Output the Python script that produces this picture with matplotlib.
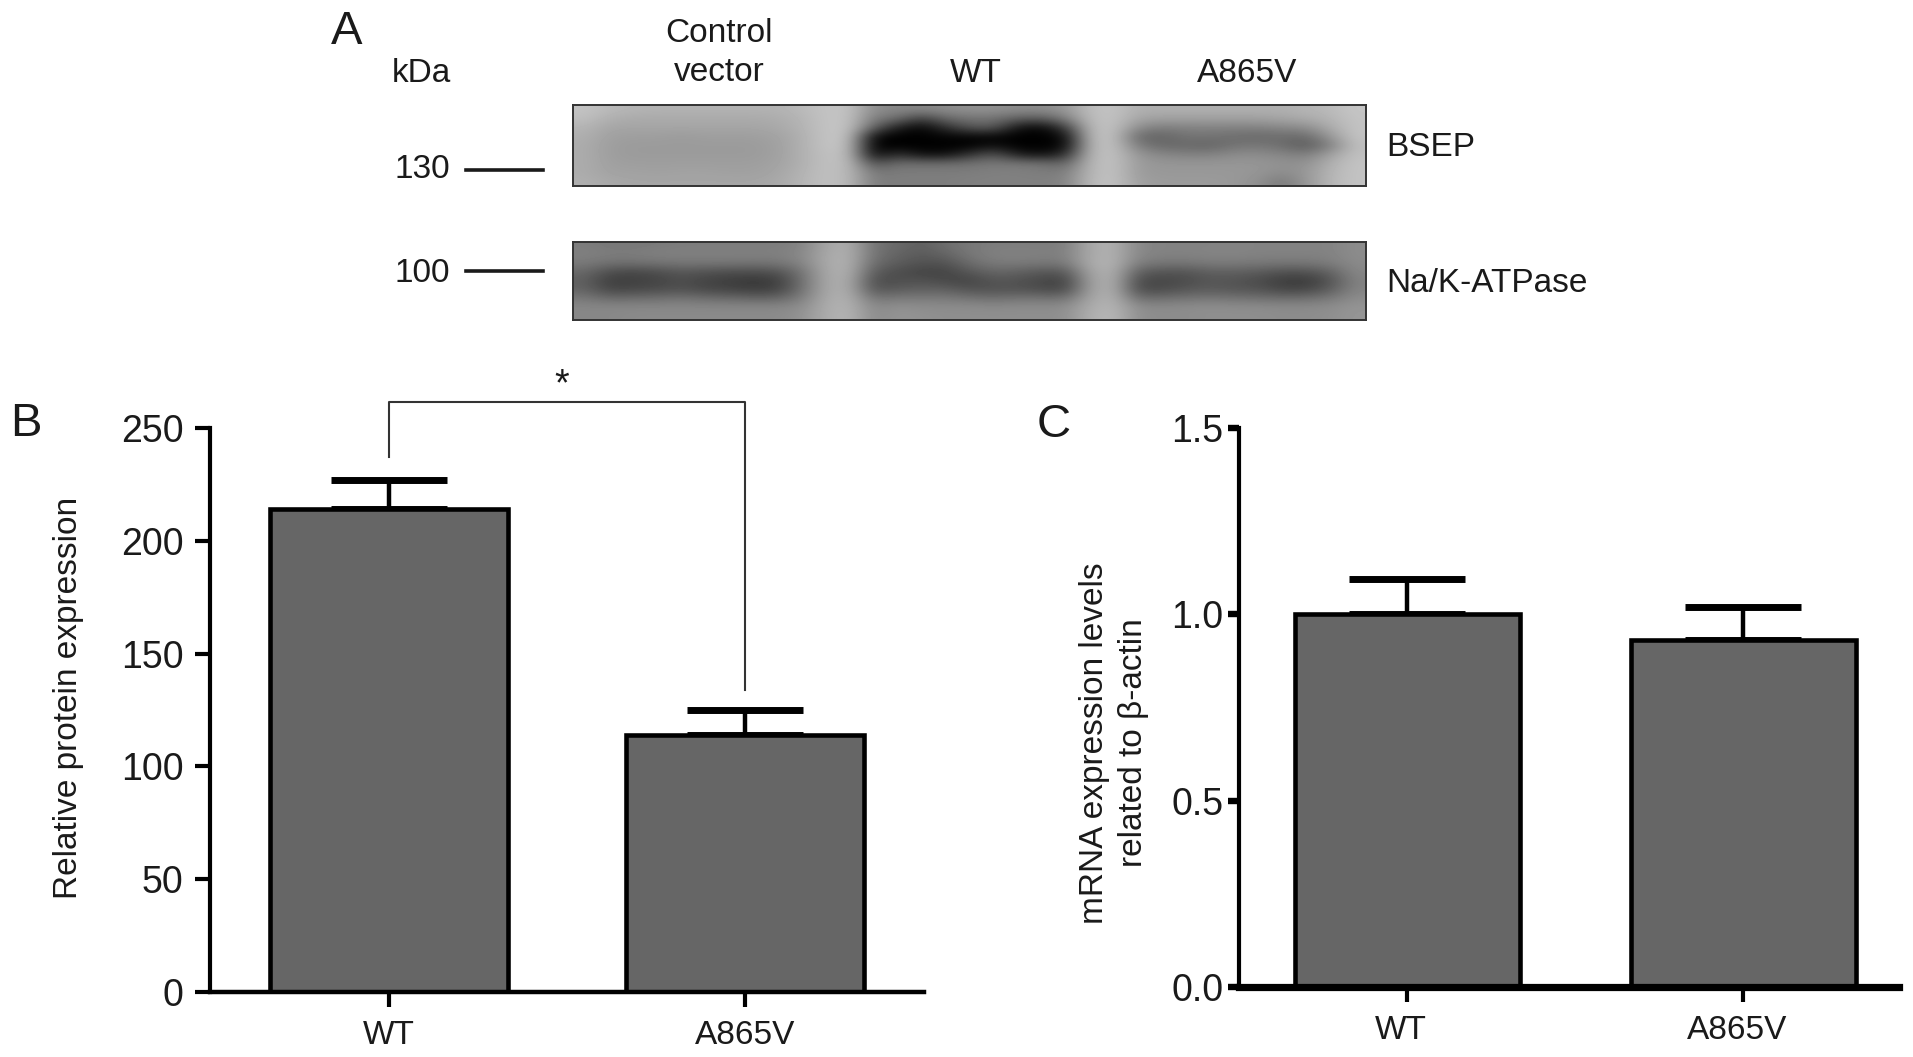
import matplotlib
matplotlib.use("Agg")
import matplotlib.pyplot as plt
from matplotlib.transforms import ScaledTranslation

plt.rcParams['font.family'] = ['Liberation Sans', 'DejaVu Sans']

W, H = 1913, 1057

## Data
categories = ["WT", "A865V"]
protein_values = [214, 114]
protein_errors = [13, 11]
mrna_values = [1.0, 0.93]
mrna_errors = [0.095, 0.09]
protein_ticks = [0, 50, 100, 150, 200, 250]
mrna_ticks = [0.0, 0.5, 1.0, 1.5]
lane_labels = ["Control\nvector", "WT", "A865V"]
lane_label_x = [719, 976, 1247]
marker_labels = ["130", "100"]

bsep_blot = [
    [195, 185, 180, 178, 178, 178, 178, 178, 178, 185, 195, 195, 140, 135, 135, 140, 145, 145, 140, 140, 150, 190, 195, 175, 175, 175, 175, 175, 175, 175, 180, 185, 198],
    [190, 175, 170, 170, 170, 170, 170, 170, 172, 180, 195, 195, 125, 110, 60, 105, 115, 115, 95, 90, 125, 188, 195, 165, 160, 160, 160, 160, 160, 165, 170, 180, 195],
    [180, 165, 165, 165, 165, 165, 165, 165, 168, 178, 195, 195, 100, 30, 5, 45, 85, 90, 20, 5, 60, 185, 195, 140, 125, 130, 130, 130, 130, 135, 140, 170, 195],
    [175, 160, 158, 158, 155, 158, 158, 158, 162, 175, 195, 195, 10, 0, 0, 5, 5, 5, 0, 0, 10, 185, 195, 105, 100, 115, 115, 110, 105, 110, 105, 150, 195],
    [172, 158, 155, 155, 155, 155, 155, 155, 160, 175, 195, 192, 0, 0, 0, 0, 0, 15, 0, 0, 5, 182, 195, 125, 105, 105, 100, 115, 120, 110, 90, 125, 190],
    [172, 158, 155, 155, 155, 155, 155, 155, 160, 175, 192, 190, 10, 50, 15, 15, 50, 85, 30, 15, 45, 182, 195, 150, 135, 130, 130, 140, 140, 135, 125, 160, 192],
    [172, 160, 158, 158, 158, 158, 158, 158, 162, 175, 192, 188, 80, 110, 110, 110, 115, 120, 120, 115, 100, 182, 195, 155, 150, 150, 150, 150, 150, 145, 145, 175, 195],
    [172, 162, 162, 160, 162, 162, 160, 160, 165, 178, 192, 185, 120, 125, 125, 125, 125, 128, 128, 125, 125, 182, 195, 155, 152, 152, 152, 152, 150, 140, 150, 180, 195],
    [175, 168, 165, 165, 165, 165, 165, 165, 168, 180, 192, 185, 125, 125, 125, 125, 128, 128, 128, 128, 130, 185, 195, 160, 155, 155, 155, 152, 145, 120, 150, 182, 195],
]
atpase_blot = [
    [125, 120, 120, 122, 125, 125, 125, 125, 125, 130, 165, 175, 115, 105, 95, 110, 120, 125, 125, 125, 125, 170, 178, 135, 130, 130, 130, 132, 130, 130, 130, 130, 140],
    [128, 125, 125, 128, 128, 128, 128, 128, 128, 135, 168, 178, 115, 100, 90, 100, 120, 128, 130, 128, 128, 170, 178, 135, 130, 130, 132, 132, 130, 130, 130, 130, 140],
    [122, 112, 112, 115, 118, 118, 118, 115, 118, 130, 170, 178, 108, 92, 82, 82, 108, 122, 122, 120, 120, 172, 180, 125, 118, 118, 122, 122, 120, 118, 118, 124, 138],
    [105, 78, 72, 78, 88, 82, 78, 78, 82, 115, 168, 178, 92, 78, 68, 68, 88, 102, 98, 88, 88, 165, 178, 96, 85, 85, 96, 96, 92, 82, 82, 98, 135],
    [96, 62, 64, 68, 78, 68, 62, 56, 62, 110, 168, 175, 78, 78, 82, 72, 68, 86, 82, 72, 66, 160, 178, 76, 70, 76, 86, 84, 76, 62, 58, 82, 130],
    [100, 70, 72, 76, 82, 72, 68, 62, 66, 112, 168, 175, 84, 92, 96, 96, 82, 82, 84, 76, 72, 160, 178, 76, 76, 86, 92, 86, 84, 70, 70, 92, 132],
    [120, 105, 108, 110, 115, 108, 105, 100, 100, 125, 170, 178, 115, 122, 122, 122, 115, 110, 115, 115, 112, 165, 180, 108, 110, 115, 118, 115, 112, 108, 110, 120, 140],
    [135, 135, 135, 135, 135, 135, 135, 135, 135, 140, 172, 180, 135, 145, 140, 140, 140, 138, 140, 140, 140, 172, 182, 140, 138, 140, 142, 140, 140, 138, 138, 140, 148],
    [135, 135, 138, 138, 138, 138, 138, 138, 138, 145, 172, 182, 138, 148, 145, 142, 142, 142, 142, 142, 142, 175, 185, 142, 140, 140, 142, 142, 142, 140, 140, 142, 150],
]


def px_axes(x0, y0, x1, y1):
    # pixel box with y measured from the top of the picture
    return fig.add_axes([x0 / W, 1 - y1 / H, (x1 - x0) / W, (y1 - y0) / H])


def px_text(x, y, s, **kw):
    fig.text(x / W, 1 - y / H, s, color="#1a1a1a", **kw)


def draw_blot(x0, y0, x1, y1, grid):
    ax = px_axes(x0, y0, x1, y1)
    ax.imshow(grid, cmap="gray", vmin=0, vmax=255, aspect="auto", interpolation="bicubic")
    ax.set_xticks([])
    ax.set_yticks([])
    for s in ax.spines.values():
        s.set_linewidth(1.4)
        s.set_color("#333333")


def draw_bars(box, values, errors, ylim, ticks, ticklabels, axis_lw, tick_w, tick_len, tick_pad, xlim):
    ax = px_axes(*box)
    ax.bar([0, 1], values, width=BAR_W, color="#666666", edgecolor="black", linewidth=3.3, zorder=2)
    ax.errorbar([0, 1], values, yerr=[[0, 0], errors], fmt="none", ecolor="black",
                elinewidth=3.2, capsize=42, capthick=5, zorder=1)
    ax.set_xlim(*xlim)
    ax.set_ylim(*ylim)
    ax.set_xticks([0, 1])
    ax.set_xticklabels(categories, fontsize=24, color="#1a1a1a")
    ax.set_yticks(ticks)
    ax.set_yticklabels(ticklabels, fontsize=27, color="#1a1a1a")
    ax.tick_params(axis="x", length=11, width=3, pad=9)
    ax.tick_params(axis="y", length=tick_len, width=tick_w, pad=tick_pad)
    for s in ["top", "right"]:
        ax.spines[s].set_visible(False)
    ax.spines["left"].set_linewidth(3)
    ax.spines["bottom"].set_linewidth(axis_lw)
    ax.patch.set_alpha(0)
    return ax


fig = plt.figure(figsize=(W / 100, H / 100), dpi=100)

## Panel A
draw_blot(573, 105, 1366, 186, bsep_blot)
draw_blot(573, 242, 1366, 320, atpase_blot)
px_text(347, 32, "A", fontsize=34, ha="center", va="center")
px_text(421, 73, "kDa", fontsize=24, ha="center", va="center")
for label, x in zip(lane_labels, lane_label_x):
    px_text(x, 53 if "\n" in label else 73, label, fontsize=24, ha="center", va="center", linespacing=1.37)
px_text(1386, 148, "BSEP", fontsize=24, ha="left", va="center")
px_text(1386, 284, "Na/K-ATPase", fontsize=24, ha="left", va="center")
px_text(422, 169, marker_labels[0], fontsize=24, ha="center", va="center")
px_text(422, 273, marker_labels[1], fontsize=24, ha="center", va="center")
for y in [170, 271]:
    fig.add_artist(plt.Line2D([466 / W, 543 / W], [1 - y / H] * 2, color="#1a1a1a", lw=2.6))

## Panel B
BAR_W = 238 / 356
ax_b = draw_bars((210, 428, 924, 992), protein_values, protein_errors, (0, 250), protein_ticks,
                 [str(t) for t in protein_ticks], 3.2, 3, 11, 8,
                 ((210 - 389) / 356, (924 - 389) / 356))
px_text(26, 424, "B", fontsize=34, ha="center", va="center")
px_text(69, 698, "Relative protein expression", fontsize=24, ha="center", va="center", rotation=90)
bracket_x = [389, 389, 745, 745]
bracket_y = [457, 402, 402, 690]
fig.add_artist(plt.Line2D([x / W for x in bracket_x], [1 - y / H for y in bracket_y], color="#333333", lw=1.5))
px_text(562, 385, "*", fontsize=27, ha="center", va="center")

## Panel C
BAR_W = 225 / 336
ax_c = draw_bars((1239, 428, 1899, 987), mrna_values, mrna_errors, (0, 1.5), mrna_ticks,
                 ["%.1f" % t for t in mrna_ticks], 5.2, 4.6, 8, 3,
                 ((1239 - 1407) / 336, (1899 - 1407) / 336))
for lab in ax_c.get_xticklabels():
    lab.set_transform(lab.get_transform() + ScaledTranslation(-6 / 100, 0, fig.dpi_scale_trans))
px_text(1054, 425, "C", fontsize=34, ha="center", va="center")
px_text(1114, 743, "mRNA expression levels\nrelated to β-actin", fontsize=24, ha="center", va="center",
        rotation=90, linespacing=1.37)

fig.savefig("out.png", dpi=100)
